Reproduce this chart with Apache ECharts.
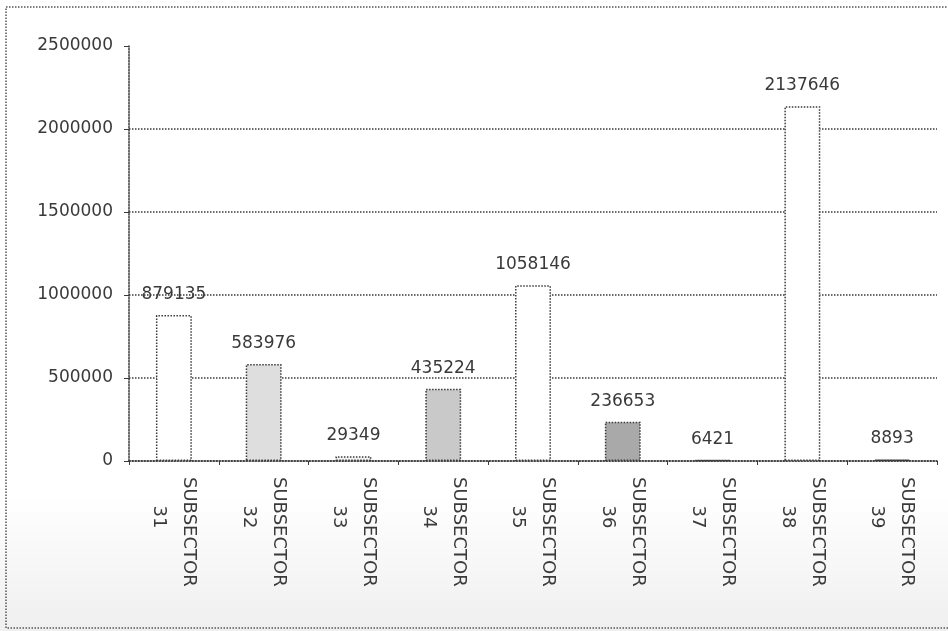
<!DOCTYPE html>
<html>
<head>
<meta charset="utf-8">
<title>Subsector chart</title>
<script src="https://cdn.jsdelivr.net/npm/echarts@6/dist/echarts.min.js"></script>
<style>
  html, body { margin: 0; padding: 0; background: #fff; }
  #main { width: 948px; height: 631px; }
</style>
</head>
<body>
<div id="main"></div>
<script>
// data
var categories = ["31", "32", "33", "34", "35", "36", "37", "38", "39"];
var values = [879135, 583976, 29349, 435224, 1058146, 236653, 6421, 2137646, 8893];
var yTicks = [0, 500000, 1000000, 1500000, 2000000, 2500000];

// bar fills (halftone greys in the scan)
var fills = ["#ffffff", "#dedede", "#f4f4f4", "#c9c9c9", "#ffffff", "#a9a9a9", "#f4f4f4", "#ffffff", "#f4f4f4"];

var font = "DejaVu Sans";
var ink = "#3a3a3a";
var indent = "\u00a0\u00a0\u00a0\u00a0\u00a0";

var chart = echarts.init(document.getElementById("main"), null, { renderer: "canvas" });

chart.setOption({
  animation: false,
  backgroundColor: "#ffffff",
  graphic: [
    {
      type: "rect",
      z: -10,
      shape: { x: 0, y: 495, width: 948, height: 136 },
      style: {
        fill: new echarts.graphic.LinearGradient(0, 0, 0, 1, [
          { offset: 0, color: "#ffffff" },
          { offset: 1, color: "#efefef" }
        ])
      }
    },
    {
      type: "rect",
      z: -5,
      shape: { x: 6, y: 7, width: 960, height: 621 },
      style: { fill: null, stroke: "#555", lineWidth: 1.5, lineDash: [1.5, 1.5] }
    }
  ],
  grid: { left: 129, right: 11, top: 46, bottom: 170 },
  xAxis: {
    type: "category",
    data: categories,
    axisLine: { lineStyle: { color: ink, type: "dotted", width: 1.5 } },
    axisTick: { show: true, length: 4, lineStyle: { color: ink } },
    axisLabel: {
      rotate: -90,
      margin: 16,
      interval: 0,
      formatter: function (v) { return "SUBSECTOR\n" + indent + v; },
      fontFamily: font,
      fontSize: 18,
      color: ink,
      lineHeight: 30
    }
  },
  yAxis: {
    type: "value",
    min: yTicks[0],
    max: yTicks[yTicks.length - 1],
    interval: yTicks[1] - yTicks[0],
    axisLine: { show: true, lineStyle: { color: ink, type: "dotted", width: 1.5 } },
    axisTick: { show: true, length: 5, lineStyle: { color: ink } },
    axisLabel: {
      margin: 16,
      fontFamily: font,
      fontSize: 17,
      color: ink,
      formatter: function (v) { return String(v); }
    },
    splitLine: {
      show: true,
      showMaxLine: false,
      lineStyle: { color: ink, type: "dotted", width: 1.5 }
    }
  },
  series: [
    {
      type: "bar",
      barWidth: "40%",
      data: values.map(function (v, i) {
        return { value: v, itemStyle: { color: fills[i] } };
      }),
      itemStyle: { borderColor: ink, borderWidth: 1.5, borderType: "dotted" },
      label: {
        show: true,
        position: "top",
        distance: 12,
        fontFamily: font,
        fontSize: 17,
        color: ink
      }
    }
  ]
});
</script>
</body>
</html>
